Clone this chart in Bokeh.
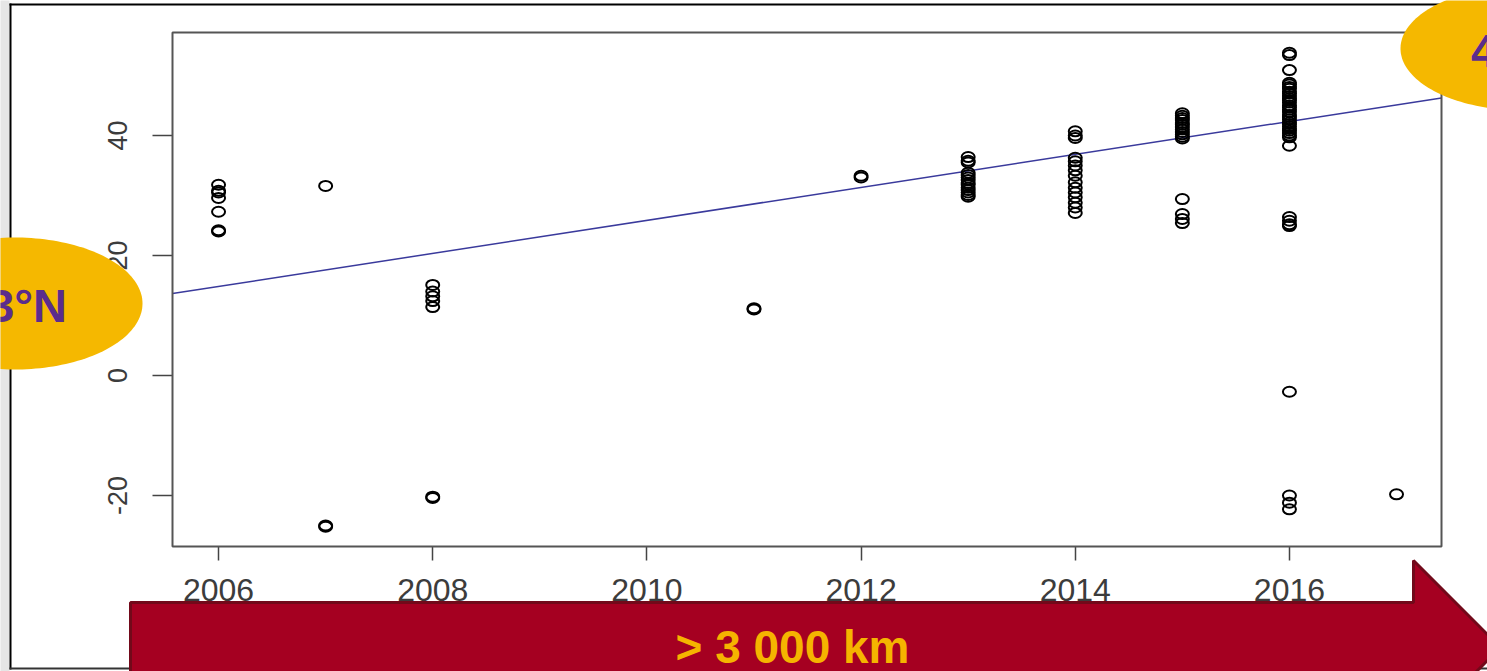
import numpy as np
from bokeh.plotting import figure
from bokeh.models import Range1d, PolyAnnotation, Label, FixedTicker
from bokeh.embed import file_html
from bokeh.resources import INLINE

# ---------------- data ----------------
lat_2006 = [31.8, 30.8, 30.5, 29.6, 27.3, 24.2, 24.0]
lat_2007 = [31.6, -25.0, -25.2]
lat_2008 = [15.1, 14.0, 13.2, 12.4, 11.4, -20.2, -20.4]
lat_2011 = [11.2, 11.0]
lat_2012 = [33.3, 33.0]
lat_2013 = [36.4, 35.8, 35.5, 33.8, 33.4, 33.0, 32.6, 32.1, 31.8, 31.3,
            30.9, 30.5, 30.1, 29.8]
lat_2014 = [40.7, 40.0, 39.6, 36.3, 35.7, 35.0, 34.2, 33.3, 32.2, 31.3,
            30.5, 29.7, 28.8, 28.0, 27.1]
lat_2015 = [43.7, 43.3, 42.9, 42.6, 42.1, 41.8, 41.4, 41.0, 40.6, 40.2,
            39.8, 39.5, 29.4, 26.9, 26.1, 25.4]
lat_2016 = [53.8, 53.4, 50.9, 48.8, 48.5, 48.1, 47.8, 47.3, 47.0, 46.6,
            46.2, 45.9, 45.5, 45.0, 44.7, 44.3, 43.9, 43.4, 43.1, 42.7,
            42.2, 41.9, 41.5, 41.1, 40.8, 40.4, 40.0, 39.7, 38.3, 26.4,
            25.8, 25.2, 24.9, -2.7, -20.0, -21.2, -22.3]
lat_2017 = [-19.8]

years_by_group = [2006, 2007, 2008, 2011, 2012, 2013, 2014, 2015, 2016, 2017]
lat_by_group = [lat_2006, lat_2007, lat_2008, lat_2011, lat_2012, lat_2013,
                lat_2014, lat_2015, lat_2016, lat_2017]

# fitted trend line
trend_slope = 2.75          # degrees per year
trend_at_2006 = 14.85       # degrees

x_ticks = [2006, 2008, 2010, 2012, 2014, 2016]
y_ticks = [-20, 0, 20, 40]
y_tick_labels = ["-20", "0", "20", "40"]

left_label = "23°N"
right_label = "45°N"
arrow_label = "> 3 000 km"

# ---------------- layout ----------------
X0, X1 = 2005.57, 2017.42          # visible data box (R plot region)
Y0, Y1 = -28.5, 57.17
W, H = 1487, 671
FL, FR, FT, FB = 172, 1441, 32, 546 # data box edges in pixels

def dx(px):
    return X0 + (px - FL) * (X1 - X0) / (FR - FL)

def dy(py):
    return Y1 - (py - FT) * (Y1 - Y0) / (FB - FT)

xs_pts, ys_pts = [], []
for yr, lats in zip(years_by_group, lat_by_group):
    xs_pts += [yr] * len(lats)
    ys_pts += lats

p = figure(width=W, height=H, output_backend="svg", toolbar_location=None,
           title=None,
           x_range=Range1d(dx(0), dx(W)),
           y_range=Range1d(dy(H), dy(0)),
           min_border_left=0, min_border_right=0,
           min_border_top=0, min_border_bottom=0)
p.background_fill_color = "white"
p.border_fill_color = "white"
p.outline_line_color = None
p.xgrid.visible = False
p.ygrid.visible = False

for ax in (p.xaxis[0], p.yaxis[0]):
    ax.axis_line_color = None
    ax.minor_tick_line_color = None
    ax.major_tick_in = 0
    ax.major_tick_line_color = "#444444"
    ax.major_tick_line_width = 1.5
    ax.major_label_text_color = "#3c3c3c"
    ax.major_label_text_font = "Liberation Sans"

p.xaxis.fixed_location = Y0
p.xaxis.ticker = FixedTicker(ticks=x_ticks)
p.xaxis.major_tick_out = 14
p.xaxis.major_label_standoff = 18
p.xaxis.major_label_text_font_size = "32px"

p.yaxis.fixed_location = X0
p.yaxis.ticker = FixedTicker(ticks=y_ticks)
p.yaxis.major_label_overrides = {v: s for v, s in zip(y_ticks, y_tick_labels)}
p.yaxis.major_tick_out = 20
p.yaxis.major_label_standoff = 25
p.yaxis.major_label_orientation = "vertical"
p.yaxis.major_label_text_font_size = "27px"

# light grey strip and outer frame lines of the slide picture
p.add_layout(PolyAnnotation(xs=[dx(-5), dx(9), dx(9), dx(-5)],
                            ys=[dy(-5), dy(-5), dy(700), dy(700)],
                            fill_color="#e6e6e6", line_color=None, fill_alpha=1))
p.add_layout(PolyAnnotation(xs=[dx(9), dx(11), dx(11), dx(9)],
                            ys=[dy(3), dy(3), dy(669), dy(669)],
                            fill_color="black", line_color=None, fill_alpha=1))
p.add_layout(PolyAnnotation(xs=[dx(9), dx(1500), dx(1500), dx(9)],
                            ys=[dy(3), dy(3), dy(5), dy(5)],
                            fill_color="black", line_color=None, fill_alpha=1))
p.add_layout(PolyAnnotation(xs=[dx(9), dx(1500), dx(1500), dx(9)],
                            ys=[dy(667), dy(667), dy(669), dy(669)],
                            fill_color="#333333", line_color=None, fill_alpha=1))

# R plot box
p.add_layout(PolyAnnotation(xs=[X0, X1, X1, X0], ys=[Y0, Y0, Y1, Y1],
                            fill_alpha=0, line_color="#555555", line_alpha=1,
                            line_width=2))

# trend line
p.line([X0, X1], [trend_at_2006 + trend_slope * (X0 - 2006),
                  trend_at_2006 + trend_slope * (X1 - 2006)],
       line_color="#3a3a9c", line_width=1.5)

# open circle points
p.ellipse(xs_pts, ys_pts, width=13, height=10, width_units="screen",
          height_units="screen", fill_color=None, line_color="black",
          line_width=2)

# ---------------- decorations ----------------
t = np.linspace(0, 2 * np.pi, 180)
def ellipse_poly(cx, cy, rx, ry):
    return ([dx(v) for v in cx + rx * np.cos(t)],
            [dy(v) for v in cy + ry * np.sin(t)])

gold = "#f5b800"
purple = "#5b2c8c"
for (cx, cy, rx, ry, txt) in [(14, 303, 128, 66, left_label),
                              (1523, 48, 123, 62, right_label)]:
    exs, eys = ellipse_poly(cx, cy, rx, ry)
    p.add_layout(PolyAnnotation(xs=exs, ys=eys, fill_color=gold, fill_alpha=1,
                                line_color=None))
    p.add_layout(Label(x=dx(cx), y=dy(cy + 2), text=txt, text_align="center",
                       text_baseline="middle", text_font="Liberation Sans",
                       text_font_style="bold", text_font_size="47px",
                       text_color=purple))

arrow_px = [(130, 602), (1413, 602), (1413, 560), (1500, 647), (1413, 734),
            (1413, 692), (130, 692)]
p.add_layout(PolyAnnotation(xs=[dx(a) for a, b in arrow_px],
                            ys=[dy(b) for a, b in arrow_px],
                            fill_color="#a50021", fill_alpha=1,
                            line_color="#72091a", line_alpha=1, line_width=3))
p.add_layout(Label(x=dx(792), y=dy(646), text=arrow_label, text_align="center",
                   text_baseline="middle", text_font="Liberation Sans",
                   text_font_style="bold", text_font_size="46px",
                   text_color="#f5b400"))

open("out.html", "w").write(file_html(p, INLINE))
